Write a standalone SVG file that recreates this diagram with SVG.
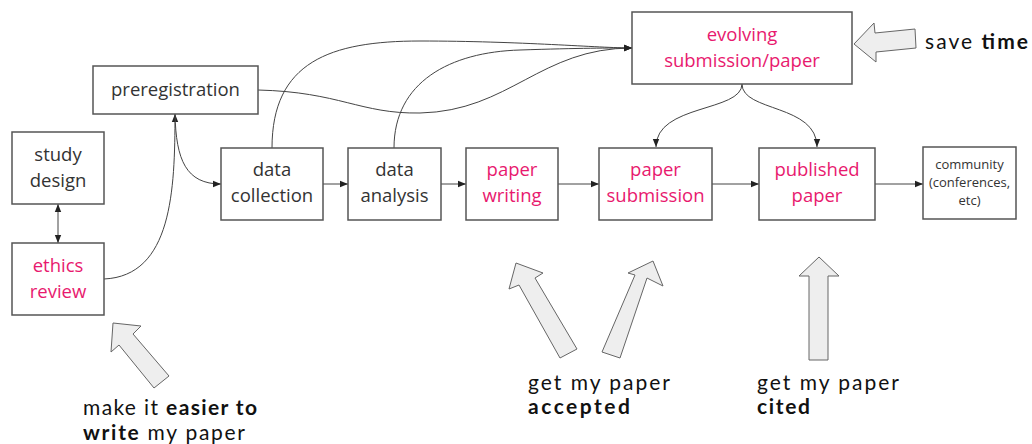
<svg xmlns="http://www.w3.org/2000/svg" width="1032" height="444" viewBox="0 0 1032 444">
<defs>
<style>
.box{fill:#fff;stroke:#555;stroke-width:1.5}
.t{font-family:"Open Sans","Noto Sans",sans-serif;font-size:18.5px;fill:#333;text-anchor:middle}
.p{fill:#e8196e}
.s{font-size:13px}
.c{fill:none;stroke:#444;stroke-width:1}
.big{fill:#eeeeee;stroke:#666;stroke-width:1}
.cap{font-family:"Lato","Open Sans",sans-serif;font-size:21px;fill:#111}
.b{font-weight:bold}
</style>
<marker id="ah" viewBox="0 0 10 10" refX="10" refY="5" markerWidth="8" markerHeight="8" markerUnits="userSpaceOnUse" orient="auto-start-reverse">
<path d="M0,1 L10,5 L0,9 z" fill="#222"/>
</marker>
</defs>
<rect width="1032" height="444" fill="#fff"/>
<g id="connectors">
<line class="c" x1="58" y1="204" x2="58" y2="243" marker-start="url(#ah)" marker-end="url(#ah)"/>
<path class="c" d="M104,279 C172,276 175,190 175,114" marker-end="url(#ah)"/>
<path class="c" d="M175,114 C176,160 186,184 221,184" marker-end="url(#ah)"/>
<line class="c" x1="323" y1="184" x2="348" y2="184" marker-end="url(#ah)"/>
<line class="c" x1="441" y1="184" x2="466" y2="184" marker-end="url(#ah)"/>
<line class="c" x1="558" y1="184" x2="599" y2="184" marker-end="url(#ah)"/>
<line class="c" x1="712" y1="184" x2="759" y2="184" marker-end="url(#ah)"/>
<line class="c" x1="875" y1="184" x2="923" y2="184" marker-end="url(#ah)"/>
<path class="c" d="M258,90 C340,92 360,114 420,113 C510,111 540,48 632,48" marker-end="url(#ah)"/>
<path class="c" d="M272,148 C272,62 330,41 420,41 C520,41 600,48 632,48" marker-end="url(#ah)"/>
<path class="c" d="M394,148 C394,82 450,52 520,50 C580,48 610,48 632,48" marker-end="url(#ah)"/>
<path class="c" d="M742,84 C742,112 656,104 656,147" marker-end="url(#ah)"/>
<path class="c" d="M742,84 C742,112 817,104 817,147" marker-end="url(#ah)"/>
</g>
<g id="preregistration"><rect class="box" x="93" y="66" width="165" height="48"/><text class="t" x="175.5" y="96">preregistration</text></g>
<g id="study-design"><rect class="box" x="12" y="132" width="92" height="72"/><text class="t" x="58" y="161">study</text><text class="t" x="58" y="187">design</text></g>
<g id="ethics-review"><rect class="box" x="12" y="243" width="92" height="72"/><text class="t p" x="58" y="272">ethics</text><text class="t p" x="58" y="298">review</text></g>
<g id="data-collection"><rect class="box" x="221" y="148" width="102" height="72"/><text class="t" x="272" y="176">data</text><text class="t" x="272" y="202">collection</text></g>
<g id="data-analysis"><rect class="box" x="348" y="148" width="93" height="72"/><text class="t" x="394.5" y="176">data</text><text class="t" x="394.5" y="202">analysis</text></g>
<g id="paper-writing"><rect class="box" x="466" y="148" width="92" height="72"/><text class="t p" x="512" y="176">paper</text><text class="t p" x="512" y="202">writing</text></g>
<g id="paper-submission"><rect class="box" x="599" y="148" width="113" height="72"/><text class="t p" x="655.5" y="176">paper</text><text class="t p" x="655.5" y="202">submission</text></g>
<g id="published-paper"><rect class="box" x="759" y="148" width="116" height="72"/><text class="t p" x="817" y="176">published</text><text class="t p" x="817" y="202">paper</text></g>
<g id="community"><rect class="box" x="923" y="147" width="93" height="72"/><text class="t s" x="969.5" y="169">community</text><text class="t s" x="969.5" y="187">(conferences,</text><text class="t s" x="969.5" y="205">etc)</text></g>
<g id="evolving"><rect class="box" x="632" y="12" width="220" height="72"/><text class="t p" x="742" y="41">evolving</text><text class="t p" x="742" y="67">submission/paper</text></g>
<g id="callout-time">
<polygon class="big" points="854,44 874,23 875,33 915,29 916,48 876,52 876,62"/>
<text class="cap" x="925" y="49" textLength="103" lengthAdjust="spacing">save <tspan class="b">time</tspan></text>
</g>
<g id="callout-write">
<polygon class="big" points="113,323 141,326 133,334 169,376 154,388 119,345 111,352"/>
<text class="cap" x="83" y="415" textLength="174" lengthAdjust="spacing">make it <tspan class="b">easier to</tspan></text>
<text class="cap" x="83" y="440" textLength="162" lengthAdjust="spacing"><tspan class="b">write</tspan> my paper</text>
</g>
<g id="callout-accepted">
<polygon class="big" points="516,263 543,273 535,278 577,349 560,358 519,285 509,289"/>
<polygon class="big" points="653,261 663,286 647,278 620,358 602,352 635,275 628,273"/>
<text class="cap" x="528" y="390" textLength="142" lengthAdjust="spacing">get my paper</text>
<text class="cap b" x="528" y="414" textLength="102" lengthAdjust="spacing">accepted</text>
</g>
<g id="callout-cited">
<polygon class="big" points="819,257 839,276 828,276 828,360 809,360 809,276 799,276"/>
<text class="cap" x="757" y="390" textLength="142" lengthAdjust="spacing">get my paper</text>
<text class="cap b" x="757" y="414" textLength="53" lengthAdjust="spacing">cited</text>
</g>
</svg>
